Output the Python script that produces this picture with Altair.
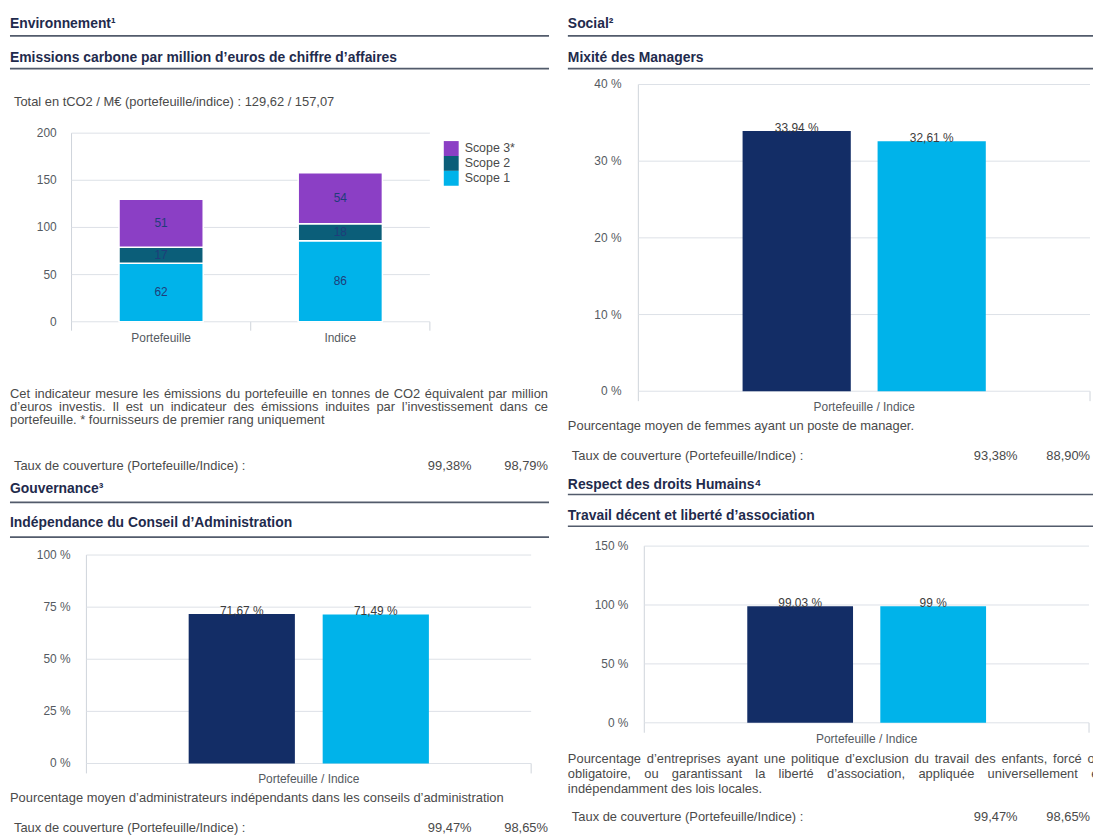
import altair as alt
import pandas as pd

# ---------------- data ----------------
env_categories = ["Portefeuille", "Indice"]
scope_names = ["Scope 3*", "Scope 2", "Scope 1"]          # legend order, top to bottom
scope1_values = [62, 86]
scope2_values = [17, 18]
scope3_values = [51, 54]
env_ticks = [0, 50, 100, 150, 200]

series_names = ["Portefeuille", "Indice"]
mixite_values = [33.94, 32.61]
mixite_ticks = [0, 10, 20, 30, 40]
independance_values = [71.67, 71.49]
independance_ticks = [0, 25, 50, 75, 100]
travail_values = [99.03, 99.0]
travail_ticks = [0, 50, 100, 150]

coverage_env = ["99,38%", "98,79%"]
coverage_social = ["93,38%", "88,90%"]
coverage_gouv = ["99,47%", "98,65%"]
coverage_hr = ["99,47%", "98,65%"]

# ---------------- style ----------------
FONT = "Liberation Sans"
NAVY = "#132d66"
CYAN = "#00b3ea"
PURPLE = "#8b3fc5"
TEAL = "#0b5e79"
HEAD = "#1f2b4d"
RULE = "#525b6b"
TEXT = "#4a4a4a"
TICK = "#555a61"
GRID = "#dde1e7"
LABEL = "#3c3c3c"
SEG = "#1f3d7a"

W, H = 1093, 831
OX, OY = 8, 8


def px(x):
    return x - OX


def py(y):
    return y - OY


# approximate Arial / Liberation Sans advance widths (1/1000 em)
CW = {}
for chars, w in [("'", 191), ("ijl’‘", 222), (" ,.:;/!Ift[]", 278), ("r()-¹²³⁴", 333),
                 ("*", 389), ("cksvxyzJç", 500),
                 ("abdeghnopqu0123456789éèàâêëôùûL€", 556), ("TFZ", 611),
                 ("ABEKPSVXY", 667), ("CDHNRUw", 722), ("GOQ", 778), ("mM", 833),
                 ("%", 889), ("W", 944)]:
    for c in chars:
        CW[c] = w


def word_w(s, size):
    return sum(CW.get(c, 556) for c in s) * size / 1000.0


BODY = 13


def justify(line, x0, x1, y, size=BODY):
    words = line.split(" ")
    widths = [word_w(w, size) for w in words]
    gap = (x1 - x0 - sum(widths)) / (len(words) - 1)
    rows, x = [], x0
    for w, wd in zip(words, widths):
        rows.append({"text": w, "x": px(x), "y": py(y)})
        x += wd + gap
    return rows


def plain(text, x, y):
    return {"text": text, "x": px(x), "y": py(y)}


# ---------------- texts ----------------
headings = [
    plain("Environnement¹", 10, 21),
    plain("Emissions carbone par million d’euros de chiffre d’affaires", 10, 55),
    plain("Gouvernance³", 10, 490),
    plain("Indépendance du Conseil d’Administration", 10, 524),
    plain("Social²", 572, 21),
    plain("Mixité des Managers", 572, 55),
    plain("Respect des droits Humains⁴", 572, 485),
    plain("Travail décent et liberté d’association", 572, 517),
]

body = [
    plain("Total en tCO2 / M€ (portefeuille/indice) : 129,62 / 157,07", 14, 100),
    plain("portefeuille. * fournisseurs de premier rang uniquement", 10, 420),
    plain("Taux de couverture (Portefeuille/Indice) :", 14, 466),
    plain("Pourcentage moyen d’administrateurs indépendants dans les conseils d’administration", 10, 801),
    plain("Taux de couverture (Portefeuille/Indice) :", 14, 831),
    plain("Pourcentage moyen de femmes ayant un poste de manager.", 572, 426),
    plain("Taux de couverture (Portefeuille/Indice) :", 576, 456),
    plain("indépendamment des lois locales.", 572, 792),
    plain("Taux de couverture (Portefeuille/Indice) :", 576, 820),
]
body += justify("Cet indicateur mesure les émissions du portefeuille en tonnes de CO2 équivalent par million", 10, 552, 394)
body += justify("d’euros investis. Il est un indicateur des émissions induites par l’investissement dans ce", 10, 552, 407)
body += justify("Pourcentage d’entreprises ayant une politique d’exclusion du travail des enfants, forcé ou", 572, 1110, 761)
body += justify("obligatoire, ou garantissant la liberté d’association, appliquée universellement et", 572, 1110, 777)

values_right = [
    plain(coverage_env[0], 475, 466), plain(coverage_env[1], 552, 466),
    plain(coverage_gouv[0], 475, 831), plain(coverage_gouv[1], 552, 831),
    plain(coverage_social[0], 1025, 456), plain(coverage_social[1], 1098, 456),
    plain(coverage_hr[0], 1025, 820), plain(coverage_hr[1], 1098, 820),
]

# heading underlines
head_rules = pd.DataFrame([
    {"x": px(a), "x2": px(b), "y": py(y)} for a, b, y in
    [(10, 553, 33), (10, 553, 66), (10, 553, 503), (10, 553, 538),
     (572, 1101, 33), (572, 1101, 66), (572, 1101, 495), (572, 1101, 527)]
])

# axis domain lines and outer ticks (light gray)
axis_lines = pd.DataFrame([
    {"x": px(x), "y": py(a), "y2": py(b)} for x, a, b in
    [(72, 131, 330), (252.5, 321, 330), (433, 321, 330),
     (643, 82, 401), (1098, 391, 401),
     (87, 556, 776), (535, 766, 776),
     (649, 547, 735), (1097, 725, 735)]
])


def text_layer(rows, size, color, align="left", weight="normal"):
    return alt.Chart(pd.DataFrame(rows)).mark_text(
        align=align, baseline="middle", font=FONT, fontSize=size, color=color, fontWeight=weight
    ).encode(
        x=alt.X("x:Q", scale=None, axis=None),
        y=alt.Y("y:Q", scale=None, axis=None),
        text="text:N",
    )


deco = [
    alt.Chart(head_rules).mark_rule(color=RULE, strokeWidth=1.6).encode(
        x=alt.X("x:Q", scale=None, axis=None), x2="x2:Q", y=alt.Y("y:Q", scale=None, axis=None)),
    alt.Chart(axis_lines).mark_rule(color="#cfd4db", strokeWidth=1).encode(
        x=alt.X("x:Q", scale=None, axis=None), y=alt.Y("y:Q", scale=None, axis=None), y2="y2:Q"),
    text_layer(headings, 14, HEAD, weight="bold"),
    text_layer(body, BODY, TEXT),
    text_layer(values_right, BODY, TEXT, align="right"),
]


def y_axis(ticks, fmt, ys, x0, x1, label_right):
    tdf = pd.DataFrame({"t": ticks, "lab": [fmt(t) for t in ticks]})
    grid = alt.Chart(tdf).mark_rule(color=GRID, strokeWidth=1).encode(
        y=alt.Y("t:Q", scale=ys, axis=None), x=alt.value(px(x0)), x2=alt.value(px(x1)))
    labs = alt.Chart(tdf).mark_text(
        align="right", baseline="middle", font=FONT, fontSize=12, color=TICK
    ).encode(y=alt.Y("t:Q", scale=ys, axis=None), x=alt.value(px(label_right)), text="lab:N")
    return [grid, labs]


# ---------------- panel 1 : stacked emissions ----------------
rows = []
for i, cat in enumerate(env_categories):
    for k, (name, vals) in enumerate([("Scope 1", scope1_values), ("Scope 2", scope2_values),
                                      ("Scope 3*", scope3_values)]):
        rows.append({"cat": cat, "scope": name, "value": vals[i], "ord": k})
env_df = pd.DataFrame(rows)

ys1 = alt.Scale(domain=[0, 200], range=[py(321), py(131)], nice=False)
xs1 = alt.Scale(domain=env_categories, range=[px(72), px(433)], paddingInner=0.53, paddingOuter=0.265)

env_bars = alt.Chart(env_df).mark_bar(stroke="white", strokeWidth=1.5).encode(
    x=alt.X("cat:N", scale=xs1, axis=None, sort=env_categories),
    y=alt.Y("value:Q", stack="zero", scale=ys1, axis=None),
    color=alt.Color("scope:N", scale=alt.Scale(domain=scope_names, range=[PURPLE, TEAL, CYAN]),
                    legend=alt.Legend(orient="none", legendX=px(447), legendY=px(139), title=None,
                                      symbolType="square", symbolSize=225, symbolStrokeWidth=0,
                                      labelFont=FONT, labelFontSize=12.5, labelColor=TEXT,
                                      rowPadding=0, labelOffset=6, padding=0, offset=0)),
    order=alt.Order("ord:Q", sort="ascending"),
)
env_seg = alt.Chart(env_df).transform_stack(
    stack="value", groupby=["cat"], as_=["v0", "v1"], sort=[alt.SortField("ord", order="ascending")]
).transform_calculate(mid="(datum.v0 + datum.v1) / 2").mark_text(
    font=FONT, fontSize=12, color=SEG, baseline="middle"
).encode(
    x=alt.X("cat:N", scale=xs1, axis=None, sort=env_categories),
    y=alt.Y("mid:Q", scale=ys1, axis=None),
    text="value:Q",
)
env_xlab = alt.Chart(pd.DataFrame({"cat": env_categories})).mark_text(
    font=FONT, fontSize=12, color=TICK, baseline="middle"
).encode(
    x=alt.X("cat:N", scale=xs1, axis=None, sort=env_categories),
    y=alt.value(py(337)),
    text="cat:N",
)
panel1 = alt.layer(*y_axis(env_ticks, lambda t: str(t), ys1, 72, 433, 57),
                   env_bars, env_seg, env_xlab)


# ---------------- percentage panels ----------------
def pct_label(v):
    return f"{v:g}".replace(".", ",") + " %"


def pct_panel(values, ticks, x0, x1, y_bottom, y_top, label_right, xlabel_y, pi, po):
    ys = alt.Scale(domain=[ticks[0], ticks[-1]], range=[py(y_bottom), py(y_top)], nice=False)
    xs = alt.Scale(domain=series_names, range=[px(x0), px(x1)], paddingInner=pi, paddingOuter=po)
    df = pd.DataFrame({"serie": series_names, "value": values,
                       "label": [pct_label(v) for v in values]})
    bars = alt.Chart(df).mark_bar().encode(
        x=alt.X("serie:N", scale=xs, axis=None, sort=series_names),
        y=alt.Y("value:Q", scale=ys, axis=None),
        color=alt.Color("serie:N", scale=alt.Scale(domain=series_names, range=[NAVY, CYAN]), legend=None),
    )
    labs = alt.Chart(df).mark_text(
        font=FONT, fontSize=12, color=LABEL, baseline="alphabetic", dy=1
    ).encode(
        x=alt.X("serie:N", scale=xs, axis=None, sort=series_names),
        y=alt.Y("value:Q", scale=ys, axis=None),
        text="label:N",
    )
    xlab = alt.Chart(pd.DataFrame({"t": ["Portefeuille / Indice"]})).mark_text(
        font=FONT, fontSize=12, color=TICK, baseline="middle"
    ).encode(x=alt.value(px((x0 + x1) / 2)), y=alt.value(py(xlabel_y)), text="t:N")
    return alt.layer(*y_axis(ticks, lambda t: f"{t} %", ys, x0, x1, label_right), bars, labs, xlab)


panel2 = pct_panel(mixite_values, mixite_ticks, 643, 1098, 391, 82, 626, 407, 0.1985, 0.772)
panel3 = pct_panel(independance_values, independance_ticks, 87, 535, 766, 556, 71, 782, 0.2074, 0.763)
panel4 = pct_panel(travail_values, travail_ticks, 649, 1097, 725, 547, 633, 741, 0.205, 0.774)

chart = alt.layer(*deco, panel1, panel2, panel3, panel4).resolve_scale(
    x="independent", y="independent", color="independent"
).properties(
    width=W, height=H, padding=0, autosize=alt.AutoSizeParams(type="none"), background="white"
).configure_view(stroke=None)

chart.save("out.html", embed_options={"renderer": "svg", "actions": False})
